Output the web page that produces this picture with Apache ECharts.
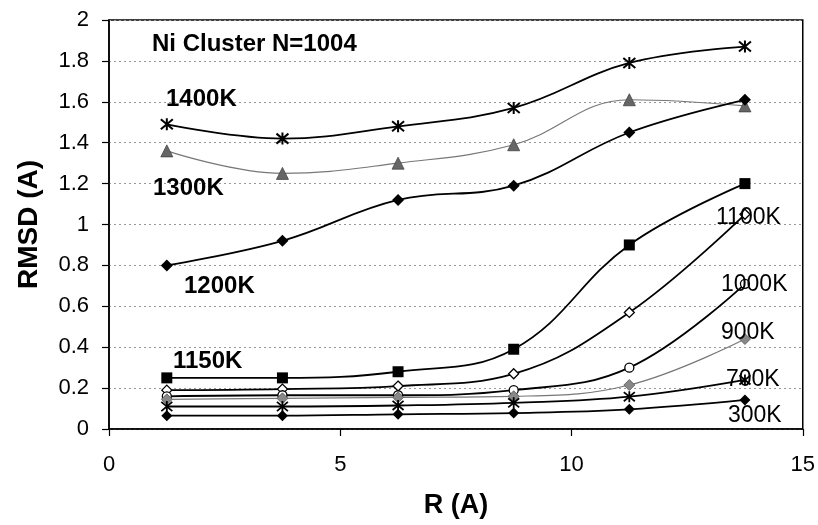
<!DOCTYPE html>
<html>
<head>
<meta charset="utf-8">
<script src="https://cdn.jsdelivr.net/npm/echarts@6/dist/echarts.min.js"></script>
<style>
html,body{margin:0;padding:0;background:#fff;}
#chart{width:818px;height:525px;}
</style>
</head>
<body>
<div id="chart"></div>
<script>
// Data
const radii = [1.25, 3.75, 6.25, 8.75, 11.25, 13.75];
const t1400 = [1.49, 1.42, 1.48, 1.57, 1.79, 1.87];
const t1300 = [1.36, 1.25, 1.30, 1.39, 1.61, 1.58];
const t1200 = [0.80, 0.92, 1.12, 1.19, 1.45, 1.61];
const t1150 = [0.25, 0.25, 0.28, 0.39, 0.90, 1.20];
const t1100 = [0.19, 0.195, 0.21, 0.27, 0.57, 1.05];
const t1000 = [0.16, 0.165, 0.165, 0.19, 0.30, 0.71];
const t900  = [0.145, 0.15, 0.155, 0.16, 0.215, 0.44];
const t700  = [0.11, 0.11, 0.115, 0.128, 0.158, 0.24];
const t300  = [0.065, 0.065, 0.072, 0.078, 0.096, 0.142];
const yTicks = [0, 0.2, 0.4, 0.6, 0.8, 1, 1.2, 1.4, 1.6, 1.8, 2];
const xTicks = [0, 5, 10, 15];

const FONT = "'Liberation Sans', Arial, Helvetica, sans-serif";
const pair = vals => radii.map((r, i) => [r, vals[i]]);
const ASTER = 'path://M0,0L10,10M10,0L0,10M5,-1L5,11';

function mk(name, vals, opt) {
  return {
    name: name,
    type: 'line',
    data: pair(vals),
    smooth: 0.4,
    symbol: opt.symbol,
    symbolSize: opt.size,
    showSymbol: true,
    lineStyle: {color: opt.line || '#000', width: opt.lw || 1.8},
    itemStyle: {
      color: opt.fill,
      borderColor: opt.border || '#000',
      borderWidth: opt.bw || 0
    },
    emphasis: {disabled: true},
    z: opt.z || 2
  };
}

const series = [
  mk('1400K', t1400, {symbol: ASTER, size: 12, fill: 'rgba(0,0,0,0)', border: '#000', bw: 2}),
  mk('1300K', t1300, {symbol: 'triangle', size: 12, fill: '#666', line: '#777', lw: 1.2, border: '#444', bw: 0.8}),
  mk('1200K', t1200, {symbol: 'diamond', size: 12, fill: '#000'}),
  mk('1150K', t1150, {symbol: 'rect', size: 11, fill: '#000'}),
  mk('1100K', t1100, {symbol: 'diamond', size: 10, fill: '#fff', border: '#000', bw: 1.3}),
  mk('1000K', t1000, {symbol: 'circle', size: 9, fill: '#fff', border: '#000', bw: 1.3}),
  mk('900K', t900, {symbol: 'diamond', size: 11, fill: '#888', line: '#777', lw: 1.2, border: '#555', bw: 0.8}),
  mk('700K', t700, {symbol: ASTER, size: 11, fill: 'rgba(0,0,0,0)', border: '#000', bw: 1.8}),
  mk('300K', t300, {symbol: 'diamond', size: 11, fill: '#000'})
];

function txt(x, y, s, bold) {
  return {
    type: 'text', x: x, y: y,
    style: {
      text: s, x: 0, y: 0,
      font: (bold ? 'bold 24px ' : '23px ') + FONT,
      fill: '#000',
      textAlign: 'left',
      textVerticalAlign: 'middle',
      verticalAlign: 'middle'
    },
    z: 10
  };
}

const chart = echarts.init(document.getElementById('chart'), null, {renderer: 'canvas'});
chart.setOption({
  animation: false,
  backgroundColor: '#fff',
  grid: {
    left: 109, right: 10, top: 20, bottom: 96,
    show: true, borderColor: '#000', borderWidth: 1.5, backgroundColor: 'transparent'
  },
  xAxis: {
    type: 'value', min: 0, max: 15, interval: 5,
    name: 'R (A)', nameLocation: 'middle', nameGap: 63,
    nameTextStyle: {fontFamily: FONT, fontWeight: 'bold', fontSize: 27, color: '#000'},
    axisLine: {show: true, lineStyle: {color: '#000', width: 1.5}},
    axisTick: {show: true, inside: false, length: 7, lineStyle: {color: '#000', width: 1.2}},
    axisLabel: {fontFamily: FONT, fontSize: 22, color: '#000', margin: 25,
      formatter: v => String(v)},
    splitLine: {show: false}
  },
  yAxis: {
    type: 'value', min: 0, max: 2, interval: 0.2,
    name: 'RMSD (A)', nameLocation: 'middle', nameGap: 66, nameRotate: 90,
    nameTextStyle: {fontFamily: FONT, fontWeight: 'bold', fontSize: 28, color: '#000'},
    axisLine: {show: true, lineStyle: {color: '#000', width: 1.5}},
    axisTick: {show: true, inside: false, length: 7, lineStyle: {color: '#000', width: 1.2}},
    axisLabel: {fontFamily: FONT, fontSize: 22, color: '#000', margin: 20,
      formatter: v => {
        const t = yTicks.find(k => Math.abs(k - v) < 1e-6);
        return t === undefined ? '' : String(+t.toFixed(1));
      }},
    splitLine: {show: true, lineStyle: {color: '#999', width: 1, type: [2, 3]}}
  },
  graphic: [
    txt(152, 44, 'Ni Cluster N=1004', true),
    txt(166, 99, '1400K', true),
    txt(153, 188, '1300K', true),
    txt(184, 286, '1200K', true),
    txt(173, 361, '1150K', true),
    txt(716, 218, '1100K', false),
    txt(721, 285, '1000K', false),
    txt(721, 333, '900K', false),
    txt(726, 380, '700K', false),
    txt(728, 416, '300K', false)
  ],
  series: series
});
</script>
</body>
</html>
